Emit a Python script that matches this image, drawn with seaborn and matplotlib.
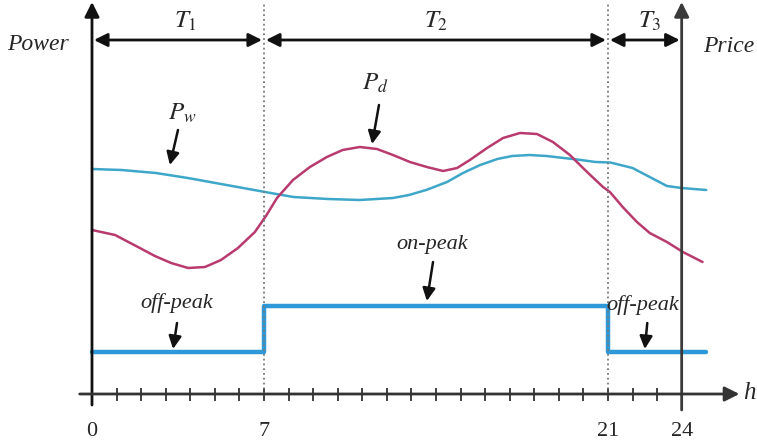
import numpy as np
import pandas as pd
import matplotlib
matplotlib.use("Agg")
import matplotlib.pyplot as plt
import seaborn as sns

# --- data (hours, power in arbitrary units) ---
pw_hours = [0, 1.2, 2.6, 3.9, 5.25, 6.6, 7.5, 8.2, 8.9, 9.6, 10.9, 12.25, 12.9, 13.6,
            14.45, 15.1, 15.8, 16.5, 17.1, 17.8, 18.5, 19.2, 19.9, 20.5, 21.1, 22.0,
            22.7, 23.4, 24.0, 25.0]
pw_values = [22.5, 22.4, 22.1, 21.6, 21.0, 20.4, 20.0, 19.7, 19.6, 19.5, 19.4, 19.6, 19.9, 20.4,
             21.2, 22.1, 22.9, 23.5, 23.8, 23.9, 23.8, 23.6, 23.4, 23.2, 23.15, 22.6,
             21.7, 20.8, 20.6, 20.4]

pd_hours = [0, 0.94, 1.87, 2.56, 3.22, 3.91, 4.6, 5.25, 5.94, 6.63, 7.08, 7.53, 8.18, 8.87,
            9.56, 10.2, 10.9, 11.6, 12.25, 12.94, 13.63, 14.29, 14.86, 15.38, 16.08, 16.73,
            17.42, 18.11, 18.76, 19.45, 20.15, 20.8, 21.08, 21.6, 22.18, 22.7, 23.4, 24.05, 24.85]
pd_values = [16.4, 15.9, 14.7, 13.8, 13.1, 12.6, 12.7, 13.4, 14.6, 16.2, 17.8, 19.6, 21.4, 22.7,
             23.7, 24.4, 24.7, 24.5, 23.9, 23.2, 22.7, 22.3, 22.6, 23.4, 24.6, 25.6,
             26.1, 26.0, 25.2, 23.9, 22.2, 20.7, 20.2, 18.7, 17.2, 16.1, 15.2, 14.2, 13.2]

price_hours = [0, 7, 21, 25]
price_values = [4.2, 8.8, 4.2, 4.2]

period_bounds = [0, 7, 21, 24]
period_labels = ["$T_1$", "$T_2$", "$T_3$"]
tick_labels = ["0", "7", "21", "24"]

sns.set_style("white")
plt.rcParams['font.family'] = ['Liberation Serif', 'DejaVu Serif']
plt.rcParams['mathtext.fontset'] = 'stix'

fig = plt.figure(figsize=(7.57, 4.43), dpi=100)
ax = fig.add_axes([0, 0, 1, 1])
ax.set_xlim(-3.744, 27.066)
ax.set_ylim(-4.9, 39.4)
ax.axis('off')

# curves
sns.lineplot(x=pw_hours, y=pw_values, ax=ax, color='#3ea7c9', lw=1.8)
sns.lineplot(x=pd_hours, y=pd_values, ax=ax, color='#b83a6e', lw=1.8)
sns.lineplot(x=price_hours, y=price_values, ax=ax, color='#2e98d8', lw=3.2,
             drawstyle='steps-post')

# axes drawn by hand (schematic style)
arrow_kw = dict(arrowstyle='-|>', lw=2, color='#111111', mutation_scale=22,
                shrinkA=0, shrinkB=0)
ax.annotate('', xy=(0, 39.2), xytext=(0, -1.1), arrowprops=arrow_kw)
ax.annotate('', xy=(24, 39.2), xytext=(24, -1.6),
            arrowprops=dict(arrow_kw, color='#3a3a3a'))
ax.annotate('', xy=(26.35, 0), xytext=(-0.5, 0), arrowprops=dict(arrow_kw, color='#333333'))

# hour ticks
ax.vlines(np.arange(1, 24), -0.65, 0.65, color='#333333', lw=1.3)

# dotted period separators
ax.vlines([7, 21], 0, 39.2, color='#777777', lw=1.3, linestyles=':')

# period arrows
for i, lab in enumerate(period_labels):
    a, b = period_bounds[i], period_bounds[i + 1]
    ax.annotate('', xy=(b - 0.08, 35.4), xytext=(a + 0.08, 35.4),
                arrowprops=dict(arrowstyle='<|-|>', lw=2, color='#111111',
                                mutation_scale=20, shrinkA=0, shrinkB=0))
ax.text(3.8, 37.3, period_labels[0], fontsize=18, ha='center', va='center')
ax.text(14.0, 37.3, period_labels[1], fontsize=18, ha='center', va='center')
ax.text(22.7, 37.3, period_labels[2], fontsize=18, ha='center', va='center')

# tick labels
for lab in tick_labels:
    ax.text(float(lab), -3.8, lab, fontsize=16, ha='center', va='center')

# axis titles
ax.text(-2.2, 34.9, 'Power', fontsize=17, style='italic', ha='center', va='center')
ax.text(25.9, 34.7, 'Price', fontsize=17, style='italic', ha='center', va='center')
ax.text(26.75, 0.1, 'h', fontsize=18, style='italic', ha='center', va='center')

# curve labels with arrows
lab_arrow = dict(arrowstyle='-|>', lw=1.8, color='#111111', mutation_scale=19,
                 shrinkA=0, shrinkB=0)
ax.text(3.66, 28.1, '$P_w$', fontsize=18, ha='center', va='center')
ax.annotate('', xy=(3.17, 22.9), xytext=(3.5, 26.4), arrowprops=lab_arrow)
ax.text(11.52, 31.1, '$P_d$', fontsize=18, ha='center', va='center')
ax.annotate('', xy=(11.4, 25.0), xytext=(11.68, 28.9), arrowprops=lab_arrow)
ax.text(13.84, 14.9, 'on-peak', fontsize=16, style='italic', ha='center', va='center')
ax.annotate('', xy=(13.63, 9.3), xytext=(13.88, 13.2), arrowprops=lab_arrow)
ax.text(3.46, 9.1, 'off-peak', fontsize=16, style='italic', ha='center', va='center')
ax.annotate('', xy=(3.3, 4.5), xytext=(3.46, 7.1), arrowprops=lab_arrow)
ax.text(22.43, 8.9, 'off-peak', fontsize=16, style='italic', ha='center', va='center')
ax.annotate('', xy=(22.5, 4.5), xytext=(22.6, 7.1), arrowprops=lab_arrow)

fig.savefig('out.png', dpi=100, facecolor='white')
